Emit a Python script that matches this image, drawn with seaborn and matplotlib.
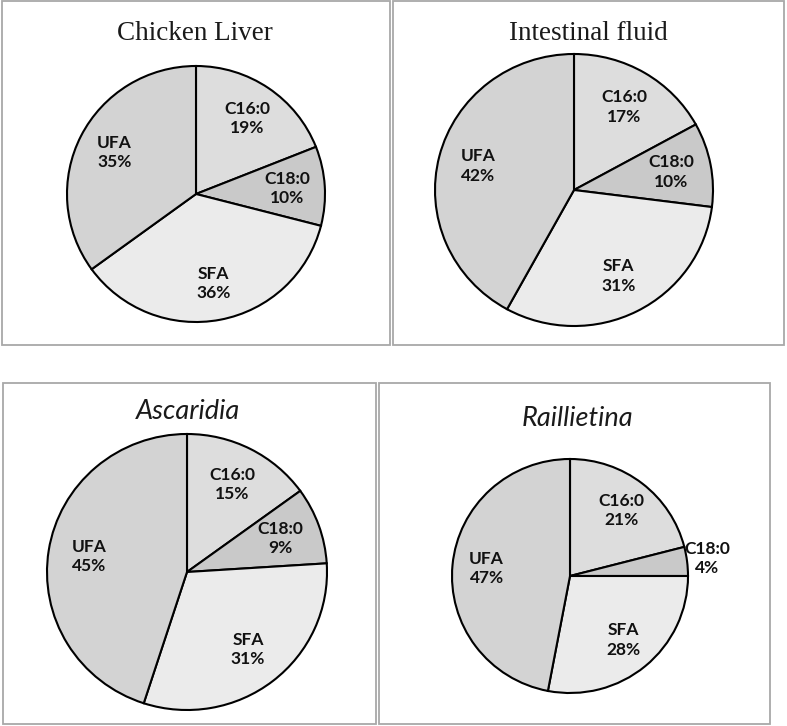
import matplotlib
matplotlib.use("Agg")
import matplotlib.pyplot as plt
from matplotlib.patches import Rectangle
import numpy as np
import seaborn as sns

# ---- data ----
categories = ["C16:0", "C18:0", "SFA", "UFA"]
chicken_liver = [19, 10, 36, 35]
intestinal_fluid = [17, 10, 31, 42]
ascaridia = [15, 9, 31, 45]
raillietina = [21, 4, 28, 47]
titles = ["Chicken Liver", "Intestinal fluid", "Ascaridia", "Raillietina"]

sns.set_style("white")
plt.rcParams["font.family"] = ["Lato", "DejaVu Sans"]
palette = sns.color_palette(["#dddddd", "#c9c9c9", "#ebebeb", "#d3d3d3"])

W, H = 787, 726
fig = plt.figure(figsize=(W / 100, H / 100), dpi=100)
fig.patch.set_facecolor("white")

# panel frames (pixels: x0, y0, x1, y1)
frames = [(2, 1, 390, 345), (393, 1, 784, 345), (3, 383, 376, 724), (379, 383, 770, 724)]
for x0, y0, x1, y1 in frames:
    fig.add_artist(Rectangle((x0 / W, 1 - y1 / H), (x1 - x0) / W, (y1 - y0) / H,
                             transform=fig.transFigure, fill=False,
                             edgecolor="#a8a8a8", linewidth=1.3))

# pie geometry (pixels): cx, cy, rx, ry
geoms = [(196, 194, 129, 128), (574, 190, 139, 136), (187, 572, 140, 138), (570, 576, 118, 117)]
# title geometry (pixels): x, y, style
title_pos = [(195, 33, "serif"), (588, 33, "serif"), (188, 412, "italic"), (577, 418, "italic")]

datasets = [chicken_liver, intestinal_fluid, ascaridia, raillietina]

for data, (cx, cy, rx, ry), title, (tx, ty, tstyle) in zip(datasets, geoms, titles, title_pos):
    ax = fig.add_axes([(cx - rx) / W, 1 - (cy + ry) / H, 2 * rx / W, 2 * ry / H])
    labels = [f"{c}\n{v}%" for c, v in zip(categories, data)]
    wedges, texts = ax.pie(data, labels=labels, colors=palette, startangle=90,
                           counterclock=False, labeldistance=0.71,
                           wedgeprops=dict(edgecolor="black", linewidth=1.5),
                           textprops=dict(ha="center", va="center", fontsize=12.5,
                                          fontweight="bold", color="#111111",
                                          linespacing=1.25))
    ax.set_xlim(-1, 1)
    ax.set_ylim(-1, 1)
    ax.set_aspect("auto")
    # small slices get their label outside the pie
    for w, t, v in zip(wedges, texts, data):
        if v < 5:
            ang = np.deg2rad((w.theta1 + w.theta2) / 2)
            t.set_position((1.17 * np.cos(ang), 1.17 * np.sin(ang)))
    if tstyle == "serif":
        fig.text(tx / W, 1 - ty / H, title, ha="center", va="center",
                 family=["Liberation Serif", "DejaVu Serif"], fontsize=19.5, color="#1a1a1a")
    else:
        fig.text(tx / W, 1 - ty / H, title, ha="center", va="center",
                 family=["Lato", "DejaVu Sans"], style="italic", fontsize=19.5, color="#1a1a1a")

fig.savefig("out.png", dpi=100, facecolor="white")
